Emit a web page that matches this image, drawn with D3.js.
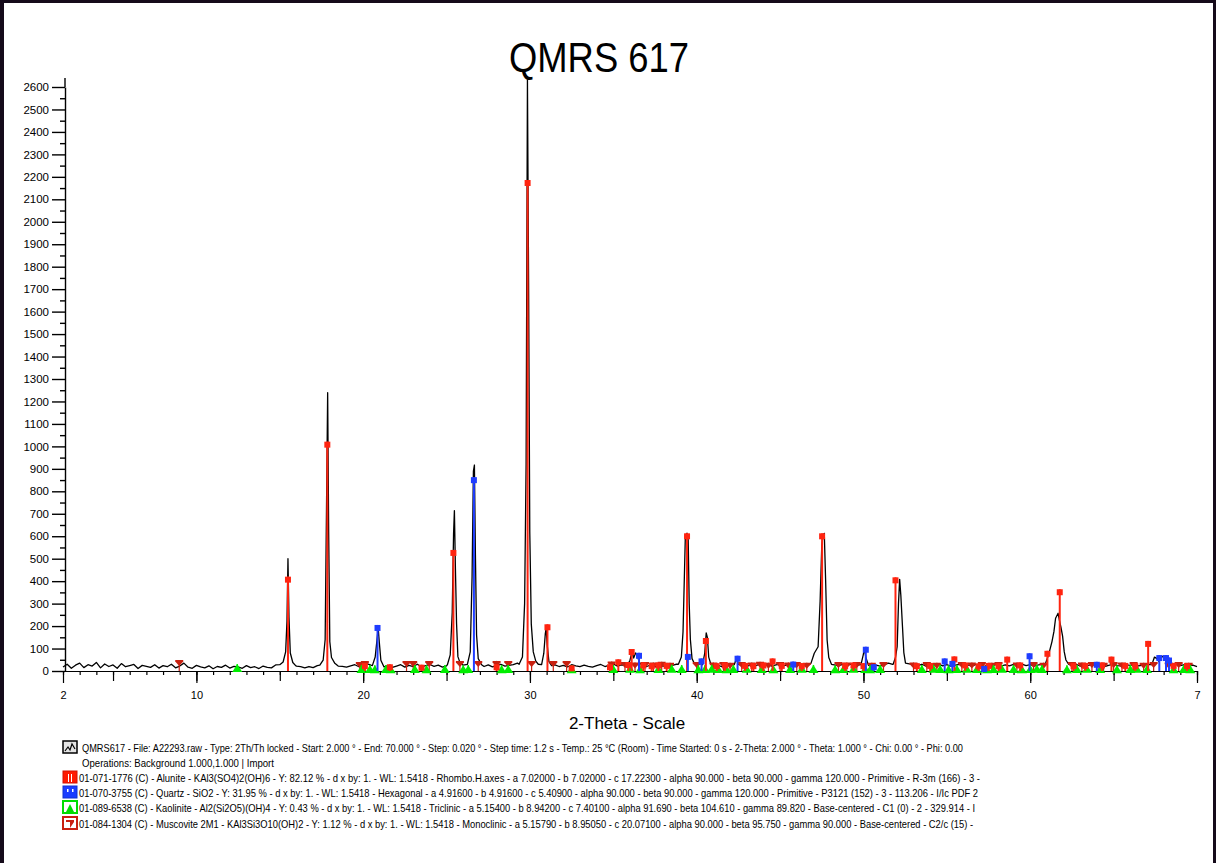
<!DOCTYPE html>
<html>
<head>
<meta charset="utf-8">
<script src="https://cdn.jsdelivr.net/npm/d3@7"></script>
<style>
    body { margin: 0; background: #fff; }
    svg { display: block; }
    text { font-family: "Liberation Sans", Arial, sans-serif; }
</style>
</head>
<body>
<svg id="chart" width="1216" height="863"></svg>
<script>
// scan background, 2-Theta 2.00 .. 70.00 every 0.25
const bgStart = 2
const bgStep = 0.25
const bgCounts = [
    18, 30, 12, 26, 35, 15, 28, 22, 38, 14, 31, 20, 27, 12, 33, 19, 24, 29, 11, 25,
    21, 16, 28, 13, 24, 19, 30, 14, 22, 35, 17, 12, 25, 18, 14, 23, 10, 20, 16, 26,
    13, 21, 18, 12, 24, 15, 19, 11, 22, 16, 14, 27, 18, 25, 30, 26, 22, 19, 14, 20,
    15, 24, 17, 22, 30, 38, 26, 21, 17, 23, 28, 19, 26, 32, 25, 20, 27, 18, 24, 16,
    22, 28, 17, 25, 20, 30, 18, 24, 29, 21, 26, 17, 23, 31, 24, 28, 22, 26, 35, 30,
    26, 20, 27, 18, 24, 30, 22, 25, 28, 35, 40, 32, 26, 30, 24, 28, 33, 22, 27, 20,
    25, 18, 28, 23, 19, 26, 21, 17, 24, 29, 20, 26, 31, 22, 27, 24, 30, 28, 22, 26,
    20, 27, 18, 25, 22, 29, 24, 30, 35, 28, 21, 30, 26, 33, 24, 29, 22, 27, 19, 25,
    28, 22, 30, 24, 20, 27, 23, 29, 25, 32, 22, 27, 31, 24, 28, 21, 26, 30, 23, 28,
    32, 30, 38, 40, 35, 27, 23, 29, 25, 31, 22, 27, 24, 30, 21, 26, 22, 28, 35, 30,
    33, 38, 40, 32, 27, 24, 30, 22, 27, 25, 31, 23, 28, 21, 26, 30, 24, 27, 22, 29,
    25, 21, 28, 24, 30, 22, 27, 23, 29, 26, 31, 24, 28, 22, 27, 30, 35, 40, 42, 38,
    35, 28, 24, 30, 22, 27, 25, 29, 23, 28, 21, 26, 30, 24, 22, 27, 25, 30, 23, 26,
    30, 28, 35, 33, 30, 27, 32, 29, 24, 28, 22, 26,
    20
]

// measured peaks [2-Theta, counts]
const peakProfiles = [
    [[15.0, 28], [15.2, 40], [15.35, 85], [15.43, 220], [15.49, 500], [15.55, 240], [15.63, 80], [15.78, 38], [15.95, 24]],
    [[17.4, 26], [17.6, 48], [17.72, 140], [17.8, 720], [17.87, 1239], [17.93, 620], [18.0, 130], [18.1, 60], [18.3, 34], [18.5, 22]],
    [[20.55, 24], [20.72, 62], [20.83, 140], [20.9, 191], [20.97, 125], [21.06, 48], [21.2, 26]],
    [[25.05, 28], [25.22, 72], [25.34, 260], [25.42, 610], [25.47, 714], [25.53, 460], [25.6, 210], [25.68, 64], [25.82, 34], [26.0, 26],
     [26.25, 30], [26.42, 85], [26.53, 420], [26.61, 890], [26.67, 917], [26.73, 520], [26.8, 160], [26.9, 55], [27.1, 28]],
    [[29.35, 30], [29.55, 62], [29.68, 300], [29.77, 920], [29.85, 2631], [29.92, 1720], [29.99, 620], [30.08, 210], [30.2, 85], [30.35, 44], [30.5, 30]],
    [[30.7, 28], [30.83, 78], [30.92, 165], [30.97, 190], [31.04, 112], [31.14, 42], [31.3, 24]],
    [[35.85, 26], [36.0, 48], [36.12, 86], [36.22, 58], [36.33, 80], [36.43, 72], [36.55, 40], [36.7, 26]],
    [[38.9, 30], [39.08, 62], [39.18, 175], [39.26, 420], [39.32, 605], [39.42, 613], [39.49, 583], [39.55, 300], [39.62, 140], [39.72, 55], [39.88, 30]],
    [[40.35, 28], [40.48, 78], [40.57, 170], [40.64, 150], [40.72, 62], [40.85, 30]],
    [[42.25, 28], [42.38, 55], [42.5, 30]],
    [[46.85, 34], [47.05, 79], [47.28, 108], [47.4, 310], [47.5, 560], [47.58, 605], [47.65, 613], [47.73, 405], [47.82, 138], [47.92, 60], [48.08, 30]],
    [[49.85, 28], [49.98, 70], [50.06, 100], [50.14, 62], [50.3, 25]],
    [[51.78, 30], [51.92, 60], [52.02, 108], [52.1, 300], [52.17, 408], [52.24, 338], [52.34, 197], [52.42, 82], [52.52, 35]],
    [[60.9, 30], [61.1, 72], [61.3, 130], [61.42, 175], [61.52, 235], [61.67, 257], [61.75, 225], [61.84, 195], [61.94, 155], [62.04, 85], [62.14, 49], [62.3, 30]],
    [[67.3, 30], [67.45, 62], [67.58, 56], [67.72, 42], [67.84, 58], [67.95, 66], [68.06, 60], [68.22, 34]]
]

// reference patterns (sticks) [2-Theta, counts]
const alunite = [
    [15.49, 420], [17.85, 1021], [25.41, 539], [29.86, 2186], [31.05, 208], [35.3, 52], [36.1, 98],
    [39.42, 613], [40.55, 147], [44.55, 56], [47.52, 613], [51.92, 417], [55.45, 65], [58.62, 64],
    [61.03, 90], [61.77, 364], [64.87, 64], [67.07, 134],
    [20.1, 35], [21.6, 30], [23.5, 28], [28.0, 30], [32.5, 25], [34.8, 30], [35.9, 40], [36.8, 38],
    [37.3, 35], [37.7, 38], [38.2, 36], [41.2, 35], [41.7, 38], [42.9, 36], [43.4, 35], [44.0, 38],
    [45.1, 36], [46.3, 35], [48.9, 36], [49.4, 38], [50.0, 35], [53.2, 35], [54.0, 36], [56.1, 38],
    [56.9, 34], [57.5, 36], [58.1, 35], [59.4, 38], [62.6, 35], [63.3, 36], [64.3, 38], [65.7, 36],
    [66.3, 35], [68.6, 36], [69.4, 35]
]
const quartz = [
    [20.86, 205], [26.64, 863], [36.54, 81], [39.47, 76], [40.29, 56], [42.45, 68], [45.79, 42],
    [50.14, 108], [50.62, 30], [54.87, 56], [55.33, 45], [57.24, 22], [59.96, 79], [63.99, 41],
    [67.74, 71], [68.14, 71], [68.32, 60]
]
const kaolinite = [
    [12.45, 31], [19.9, 27], [20.4, 27], [20.7, 26], [21.36, 27], [21.65, 26], [23.1, 27], [23.8, 26],
    [24.9, 27], [26.0, 26], [26.3, 27], [28.3, 26], [28.7, 27], [32.5, 26],
    [35.0, 27], [36.0, 28], [36.6, 26], [37.7, 27], [38.5, 28], [39.1, 27], [40.1, 26], [40.5, 27],
    [40.9, 28], [41.3, 27], [41.8, 26], [42.2, 27], [43.0, 28], [43.9, 27], [44.6, 26], [45.6, 27],
    [46.3, 28], [47.0, 27], [48.3, 26], [48.8, 27], [49.4, 28], [50.1, 27], [50.4, 26], [51.0, 27],
    [53.5, 27], [54.2, 28], [54.6, 27], [55.1, 26], [55.6, 27], [56.2, 28], [56.8, 27], [57.4, 26],
    [57.8, 27], [58.3, 28], [59.0, 27], [59.5, 26], [60.0, 27], [60.4, 28], [60.7, 27], [62.2, 26],
    [62.8, 27], [63.4, 28], [64.2, 27], [65.2, 26], [66.0, 27], [66.4, 28], [67.0, 27], [68.6, 26],
    [69.2, 27], [69.6, 26]
]
const muscovite = [
    [8.97, 49], [19.8, 40], [20.1, 45], [22.6, 44], [23.0, 45], [23.96, 44], [25.8, 45], [26.9, 44],
    [28.0, 45], [28.7, 44], [30.1, 45], [31.4, 44], [32.2, 45], [34.9, 42], [35.7, 40], [36.3, 38],
    [36.9, 40], [37.4, 38], [37.9, 41], [38.4, 37], [40.0, 40], [41.0, 38], [41.6, 40], [42.0, 37],
    [42.7, 40], [43.3, 38], [43.8, 41], [44.3, 37], [45.0, 40], [45.5, 38], [46.0, 40], [46.6, 37],
    [48.5, 40], [49.0, 38], [49.6, 40], [50.5, 37], [51.2, 40], [53.0, 38], [53.8, 40], [54.4, 37],
    [55.9, 40], [56.5, 38], [57.1, 40], [57.7, 37], [58.1, 40], [59.2, 38], [60.2, 40], [60.8, 37],
    [62.5, 40], [63.1, 38], [63.7, 40], [64.4, 37], [65.0, 40], [65.5, 38], [66.2, 40], [66.8, 37],
    [67.4, 40], [68.3, 38], [68.9, 40], [69.5, 37]
]

const yTickValues = d3.range(0, 2601, 100)
const xTickValues = [2, 10, 20, 30, 40, 50, 60, 70]
const xTickLabels = ['2', '10', '20', '30', '40', '50', '60', '7']

const titleText = 'QMRS 617'
const xTitle = '2-Theta - Scale'
const legendLines = [
    'QMRS617 - File: A22293.raw - Type: 2Th/Th locked - Start: 2.000 ° - End: 70.000 ° - Step: 0.020 ° - Step time: 1.2 s - Temp.: 25 °C (Room) - Time Started: 0 s - 2-Theta: 2.000 ° - Theta: 1.000 ° - Chi: 0.00 ° - Phi: 0.00',
    'Operations: Background 1.000,1.000 | Import',
    '01-071-1776 (C) - Alunite - KAl3(SO4)2(OH)6 - Y: 82.12 % - d x by: 1. - WL: 1.5418 - Rhombo.H.axes - a 7.02000 - b 7.02000 - c 17.22300 - alpha 90.000 - beta 90.000 - gamma 120.000 - Primitive - R-3m (166) - 3 -',
    '01-070-3755 (C) - Quartz - SiO2 - Y: 31.95 % - d x by: 1. - WL: 1.5418 - Hexagonal - a 4.91600 - b 4.91600 - c 5.40900 - alpha 90.000 - beta 90.000 - gamma 120.000 - Primitive - P3121 (152) - 3 - 113.206 - I/Ic PDF 2',
    '01-089-6538 (C) - Kaolinite - Al2(Si2O5)(OH)4 - Y: 0.43 % - d x by: 1. - WL: 1.5418 - Triclinic - a 5.15400 - b 8.94200 - c 7.40100 - alpha 91.690 - beta 104.610 - gamma 89.820 - Base-centered - C1 (0) - 2 - 329.914 - I',
    '01-084-1304 (C) - Muscovite 2M1 - KAl3Si3O10(OH)2 - Y: 1.12 % - d x by: 1. - WL: 1.5418 - Monoclinic - a 5.15790 - b 8.95050 - c 20.07100 - alpha 90.000 - beta 95.750 - gamma 90.000 - Base-centered - C2/c (15) -'
]

const svg = d3.select('#chart')
const x = d3.scaleLinear().domain([2, 70]).range([63, 1197])
const y = d3.scaleLinear().domain([0, 2600]).range([671, 87])

const frameColor = '#150a1a'
svg.append('line').attr('x1', 2).attr('x2', 2).attr('y1', 0).attr('y2', 863)
    .attr('stroke', frameColor).attr('stroke-width', 4)
svg.append('line').attr('x1', 0).attr('x2', 1216).attr('y1', 1.5).attr('y2', 1.5)
    .attr('stroke', frameColor).attr('stroke-width', 3)
svg.append('line').attr('x1', 1214.5).attr('x2', 1214.5).attr('y1', 0).attr('y2', 863)
    .attr('stroke', frameColor).attr('stroke-width', 3)

// title
svg.append('text')
    .attr('x', 599).attr('y', 72)
    .attr('text-anchor', 'middle')
    .attr('font-size', 42)
    .attr('textLength', 180)
    .attr('lengthAdjust', 'spacingAndGlyphs')
    .text(titleText)

// x axis : minor 1 deg, medium 5 deg, labelled 10 deg
const xAxisG = svg.append('g').attr('transform', 'translate(0,' + y(0) + ')')
xAxisG.append('g').call(d3.axisBottom(x).tickValues(d3.range(2, 71, 1)).tickSize(4).tickSizeOuter(0).tickFormat(''))
xAxisG.append('g').call(d3.axisBottom(x).tickValues(d3.range(5, 71, 5)).tickSize(10).tickFormat(''))
    .call(g => g.select('.domain').remove())
xAxisG.append('g').call(d3.axisBottom(x).tickValues(xTickValues).tickSize(12).tickPadding(8)
        .tickFormat((d, i) => xTickLabels[i]))
    .call(g => g.select('.domain').remove())
xAxisG.selectAll('line, path').attr('stroke', '#000').attr('stroke-width', 1.2)
xAxisG.selectAll('text').attr('font-size', 11).attr('fill', '#000')
    .attr('font-family', '"Liberation Sans", Arial, sans-serif')

// y axis
const yAxisG = svg.append('g').attr('transform', 'translate(65,0)')
yAxisG.append('g').call(d3.axisLeft(y).tickValues(d3.range(50, 2600, 100)).tickSize(5).tickSizeOuter(0).tickFormat(''))
yAxisG.append('g').call(d3.axisLeft(y).tickValues(yTickValues).tickSize(13).tickPadding(3).tickFormat(d3.format('d')))
    .call(g => g.select('.domain').remove())
yAxisG.append('line').attr('x1', 0).attr('x2', 0).attr('y1', y(2600)).attr('y2', 78)
yAxisG.selectAll('line, path').attr('stroke', '#000').attr('stroke-width', 1.4)
yAxisG.selectAll('text').attr('font-size', 11.5).attr('fill', '#000')
    .attr('font-family', '"Liberation Sans", Arial, sans-serif')

// axis title
svg.append('text')
    .attr('x', 627).attr('y', 729)
    .attr('text-anchor', 'middle')
    .attr('font-size', 17)
    .text(xTitle)

// scan line: background points outside peak windows + peak points
const windows = peakProfiles.map(p => [p[0][0], p[p.length - 1][0]])
const bgPoints = bgCounts
    .map((c, i) => [bgStart + i * bgStep, c])
    .filter(([t]) => !windows.some(([a, b]) => t >= a && t <= b))
const pattern = bgPoints.concat(...peakProfiles).sort((a, b) => a[0] - b[0])

svg.append('path')
    .datum(pattern)
    .attr('fill', 'none')
    .attr('stroke', '#000')
    .attr('stroke-width', 1.3)
    .attr('stroke-linejoin', 'round')
    .attr('d', d3.line().x(d => x(d[0])).y(d => y(d[1])))

// sticks
function drawSticks(data, color, width, marker) {
    const g = svg.append('g')
    g.selectAll('line')
        .data(data)
        .join('line')
        .attr('x1', d => x(d[0])).attr('x2', d => x(d[0]))
        .attr('y1', y(0)).attr('y2', d => y(d[1]))
        .attr('stroke', color)
        .attr('stroke-width', width)
    g.selectAll('path')
        .data(data)
        .join('path')
        .attr('transform', d => 'translate(' + x(d[0]) + ',' + y(d[1]) + ')')
        .attr('d', marker)
        .attr('fill', color)
}

drawSticks(muscovite, '#c82010', 1.2, 'M-4,0H4V1.5L0,6L-4,1.5Z')
drawSticks(kaolinite, '#00ee00', 1.5, 'M-5,8L0,0L5,8Z')
drawSticks(alunite, '#ff2410', 2, 'M-3,0H3V6H-3Z')
drawSticks(quartz, '#1f3dff', 2, 'M-3,0H3V6H-3Z')

// legend
const legendBase = [752, 767, 782, 797, 812, 828]
const legendStart = [82, 82, 79, 79, 79, 79]
const legendEnd = [963, 274, 980, 978, 975, 973]

const legend = svg.append('g')
legend.selectAll('text')
    .data(legendLines)
    .join('text')
    .attr('x', (d, i) => legendStart[i])
    .attr('y', (d, i) => legendBase[i])
    .attr('font-size', 10.5)
    .attr('textLength', (d, i) => legendEnd[i] - legendStart[i])
    .attr('lengthAdjust', 'spacingAndGlyphs')
    .text(d => d)

// legend icons
const ix = 63
let iy = legendBase[0] - 11
legend.append('rect').attr('x', ix).attr('y', iy).attr('width', 14).attr('height', 12)
    .attr('fill', '#e4e4e4').attr('stroke', '#000').attr('stroke-width', 1.5)
legend.append('path').attr('d', `M${ix + 2},${iy + 10}L${ix + 5},${iy + 6}L${ix + 7},${iy + 9}L${ix + 9},${iy + 3}L${ix + 12},${iy + 8}`)
    .attr('fill', 'none').attr('stroke', '#000').attr('stroke-width', 1.2)

iy = legendBase[2] - 11
legend.append('rect').attr('x', ix).attr('y', iy).attr('width', 14).attr('height', 12)
    .attr('fill', '#ff1a00').attr('stroke', '#d01000').attr('stroke-width', 1)
legend.append('rect').attr('x', ix + 5).attr('y', iy + 3).attr('width', 4).attr('height', 8).attr('fill', '#fff')
legend.append('rect').attr('x', ix + 6).attr('y', iy + 3).attr('width', 2).attr('height', 8).attr('fill', '#ff1a00')

iy = legendBase[3] - 11
legend.append('rect').attr('x', ix).attr('y', iy).attr('width', 14).attr('height', 12)
    .attr('fill', '#1a3cff').attr('stroke', '#1030d0').attr('stroke-width', 1)
legend.append('rect').attr('x', ix + 4).attr('y', iy + 3).attr('width', 1.5).attr('height', 3).attr('fill', '#fff')
legend.append('rect').attr('x', ix + 9).attr('y', iy + 3).attr('width', 1.5).attr('height', 3).attr('fill', '#fff')

iy = legendBase[4] - 11
legend.append('rect').attr('x', ix).attr('y', iy).attr('width', 14).attr('height', 12)
    .attr('fill', '#fff').attr('stroke', '#00dd00').attr('stroke-width', 2)
legend.append('path').attr('d', `M${ix + 3},${iy + 11}L${ix + 7},${iy + 3}L${ix + 11},${iy + 11}Z`).attr('fill', '#00dd00')

iy = legendBase[5] - 11
legend.append('rect').attr('x', ix).attr('y', iy).attr('width', 14).attr('height', 12)
    .attr('fill', '#fff').attr('stroke', '#c82010').attr('stroke-width', 2)
legend.append('path').attr('d', `M${ix + 3},${iy + 3}H${ix + 11}V${iy + 5}L${ix + 7},${iy + 11}V${iy + 5}H${ix + 3}Z`).attr('fill', '#c82010')
</script>
</body>
</html>
